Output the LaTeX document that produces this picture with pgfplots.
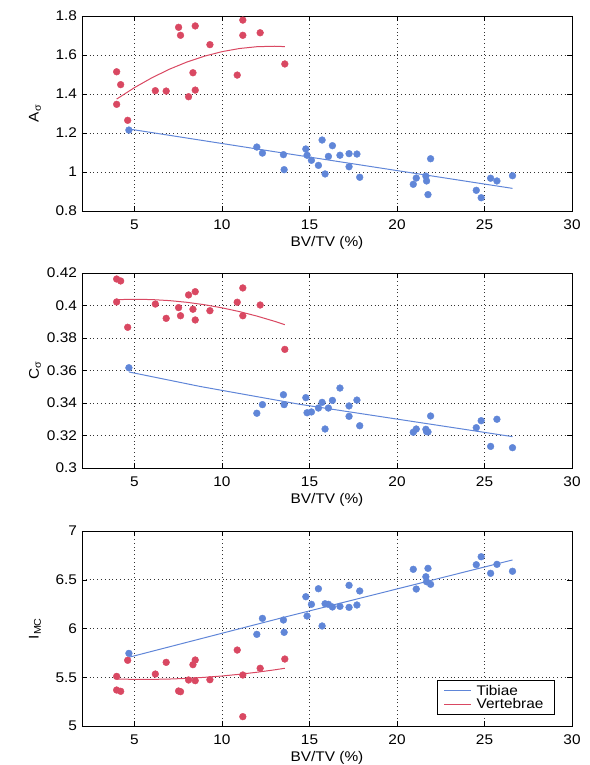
\documentclass[border=0pt]{standalone}
\usepackage{fontspec}
\setmainfont{Liberation Sans}[FakeStretch=1.1]
\usepackage{pgfplots}
\usepackage{pgfplotstable}
\pgfplotsset{compat=1.18}
\definecolor{myred}{RGB}{217,72,98}
\definecolor{myblue}{RGB}{96,134,216}

\pgfplotstableread{
x      A      C       I
3.98  1.514  0.4163  5.509
4.21  1.448  0.4151  5.356
3.98  1.347  0.4022  5.369
4.61  1.265  0.3866  5.674
6.19  1.417  0.4009  5.533
6.81  1.415  0.3921  5.653
7.52  1.742  0.3987  5.359
7.63  1.701  0.3937  5.352
8.09  1.386  0.4065  5.472
8.34  1.509  0.3977  5.629
8.47  1.749  0.4085  5.677
8.47  1.420  0.3911  5.465
9.31  1.653  0.3968  5.475
10.87 1.497  0.4020  5.779
11.19 1.779  0.4108  5.523
11.19 1.701  0.3937  5.096
12.18 1.714  0.4003  5.592
13.59 1.554  0.3730  5.687
}\vert

\pgfplotstableread{
x      A      C       I
4.68  1.215 0.3617 5.745
11.99 1.128 0.3337 5.940
12.31 1.097 0.3390 6.104
13.51 1.089 0.3451 6.087
13.55 1.012 0.3390 5.961
14.79 1.118 0.3433 6.326
14.86 1.086 0.3340 6.128
15.11 1.060 0.3345 6.248
15.51 1.034 0.3369 6.408
15.72 1.164 0.3404 6.026
15.89 0.990 0.3240 6.254
16.08 1.080 0.3369 6.248
16.31 1.135 0.3416 6.221
16.74 1.086 0.3492 6.227
17.26 1.094 0.3382 6.443
17.26 1.027 0.3318 6.217
17.71 1.092 0.3418 6.241
17.87 0.973 0.3260 6.385
20.93 0.937 0.3220 6.607
21.10 0.969 0.3240 6.405
21.65 0.979 0.3238 6.531
21.69 0.954 0.3224 6.480
21.77 0.884 0.3222 6.617
21.92 1.068 0.3320 6.453
24.53 0.906 0.3248 6.654
24.81 0.868 0.3291 6.736
25.35 0.968 0.3133 6.566
25.71 0.954 0.3300 6.658
26.60 0.981 0.3125 6.587
}\tib

\pgfplotsset{
  myax/.style={
    scale only axis, width=490pt, height=195pt,
    xmin=2, xmax=30,
    xtick={5,10,15,20,25,30},
    xticklabels={5,10,15,20,25,30},
    grid=major,
    grid style={black!80, line width=0.55pt, dash pattern=on 0.8pt off 3pt},
    tick align=inside, tick pos=both,
    major tick length=5pt,
    tick style={black, line width=0.5pt},
    axis line style={black, line width=0.8pt},
    font=\fontsize{14}{16}\selectfont,
    xlabel={BV/TV (\%)},
    every axis x label/.style={at={(axis description cs:0.5,0)}, anchor=center, yshift=-32pt},
    every axis y label/.style={at={(axis description cs:-0.0959,0.5)}, rotate=90, anchor=center},
    xticklabel style={yshift=-5pt},
    yticklabel style={xshift=-1.5pt},
    /pgf/number format/assume math mode=true,
  }
}

\begin{document}
\begin{tikzpicture}
\useasboundingbox (-82pt,-554pt) rectangle (507pt,211pt);

% Panel 1
\begin{axis}[myax, at={(0,0)}, anchor=south west,
  ymin=0.8, ymax=1.8, ytick={0.8,1,1.2,1.4,1.6,1.8},
  yticklabels={0.8,1,1.2,1.4,1.6,1.8},
  ylabel={A\textsubscript{σ}}]
\addplot[myblue, line width=1pt] coordinates {(4.68,1.2205) (13.30,1.100) (26.60,0.916)};
\addplot[myred, line width=1pt] coordinates {(3.98,1.374) (5,1.4328) (6,1.4835) (7,1.5273) (8,1.5642) (9,1.5941) (10,1.6172) (11,1.6333) (12,1.6426) (13,1.6449) (13.59,1.643)};
\addplot[myblue, only marks, mark=*, mark size=3.4pt, mark options={draw=none, fill=myblue}] table[x=x, y=A] {\tib};
\addplot[myred, only marks, mark=*, mark size=3.4pt, mark options={draw=none, fill=myred}] table[x=x, y=A] {\vert};
\end{axis}

% Panel 2
\begin{axis}[myax, at={(0,-257pt)}, anchor=south west,
  ymin=0.3, ymax=0.42, ytick={0.3,0.32,0.34,0.36,0.38,0.4,0.42},
  yticklabels={0.3,0.32,0.34,0.36,0.38,0.4,0.42},
  ylabel={C\textsubscript{σ}}]
\addplot[myblue, line width=1pt] coordinates {(4.68,0.3591) (8.74,0.3502) (14.44,0.3392) (19.94,0.3302) (26.60,0.3193)};
\addplot[myred, line width=1pt] coordinates {(3.98,0.4036) (5,0.40384) (6,0.40364) (7,0.40301) (8,0.40196) (9,0.40048) (10,0.39857) (11,0.39624) (12,0.39347) (13,0.39029) (13.59,0.3882)};
\addplot[myblue, only marks, mark=*, mark size=3.4pt, mark options={draw=none, fill=myblue}] table[x=x, y=C] {\tib};
\addplot[myred, only marks, mark=*, mark size=3.4pt, mark options={draw=none, fill=myred}] table[x=x, y=C] {\vert};
\end{axis}

% Panel 3
\begin{axis}[myax, at={(0,-515pt)}, anchor=south west,
  ymin=5, ymax=7, ytick={5,5.5,6,6.5,7},
  yticklabels={5,5.5,6,6.5,7},
  ylabel={I\textsubscript{MC}},
  legend cell align=left,
  legend style={at={(0.965,0.056)}, anchor=south east, draw=black, line width=0.8pt,
    fill=white, inner xsep=6pt, inner ysep=3pt, row sep=-1pt,
    font=\fontsize{14}{16}\selectfont,
    nodes={inner xsep=5pt, inner ysep=1.5pt}},
  legend image code/.code={\draw[#1, line width=1.1pt] (0pt,0pt) -- (27pt,0pt);}]
\addplot[myblue, line width=1pt] coordinates {(4.68,5.705) (13.30,6.104) (26.60,6.703)};
\addlegendentry{Tibiae}
\addplot[myred, line width=1pt] coordinates {(3.98,5.482) (5,5.4783) (6,5.4782) (7,5.4817) (8,5.4886) (9,5.4991) (10,5.513) (11,5.5305) (12,5.5514) (13,5.576) (13.59,5.592)};
\addlegendentry{Vertebrae}
\addplot[myblue, only marks, mark=*, mark size=3.4pt, mark options={draw=none, fill=myblue}, forget plot] table[x=x, y=I] {\tib};
\addplot[myred, only marks, mark=*, mark size=3.4pt, mark options={draw=none, fill=myred}, forget plot] table[x=x, y=I] {\vert};
\end{axis}
\end{tikzpicture}
\end{document}
